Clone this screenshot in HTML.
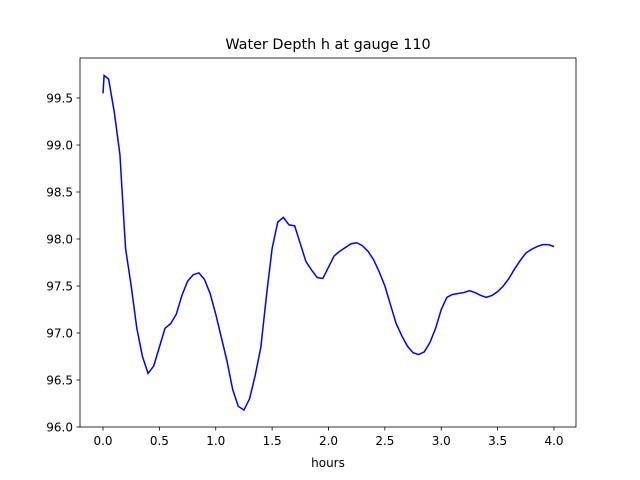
<!DOCTYPE html>
<html><head><meta charset="utf-8"><style>
body{margin:0;background:#fff;}
svg{display:block;font-family:"DejaVu Sans","Liberation Sans",sans-serif;}
</style></head><body>
<svg id="chart" width="640" height="480" viewBox="0 0 640 480">
<rect width="640" height="480" fill="#fff"/>
<text x="328" y="49" text-anchor="middle" font-size="14.4">Water Depth h at gauge 110</text>
<g id="ticks"></g>
<path id="line" fill="none" stroke="#0000ff" stroke-width="1.5"/>
<rect x="80" y="58" width="496" height="369" fill="none" stroke="#000" stroke-width="0.8"/>
<text x="328" y="467" text-anchor="middle" font-size="12">hours</text>
</svg>
<script>
const times=[0,0.01,0.05,0.1,0.15,0.2,0.25,0.3,0.35,0.4,0.45,0.5,0.55,0.6,0.65,0.7,0.75,0.8,0.85,0.9,0.95,1.0,1.05,1.1,1.15,1.2,1.25,1.3,1.35,1.4,1.45,1.5,1.55,1.6,1.65,1.7,1.75,1.8,1.85,1.9,1.95,2.0,2.05,2.1,2.15,2.2,2.25,2.3,2.35,2.4,2.45,2.5,2.55,2.6,2.65,2.7,2.75,2.8,2.85,2.9,2.95,3.0,3.05,3.1,3.15,3.2,3.25,3.3,3.35,3.4,3.45,3.5,3.55,3.6,3.65,3.7,3.75,3.8,3.85,3.9,3.95,4.0];
const depths=[99.55,99.74,99.7,99.35,98.9,97.9,97.5,97.05,96.75,96.57,96.65,96.85,97.05,97.1,97.2,97.4,97.55,97.62,97.64,97.57,97.42,97.2,96.95,96.7,96.4,96.22,96.18,96.3,96.55,96.85,97.4,97.9,98.18,98.23,98.15,98.14,97.95,97.76,97.67,97.59,97.58,97.7,97.82,97.87,97.91,97.95,97.96,97.93,97.87,97.78,97.65,97.5,97.3,97.1,96.97,96.86,96.79,96.77,96.8,96.9,97.05,97.25,97.38,97.41,97.42,97.43,97.45,97.43,97.4,97.38,97.4,97.44,97.5,97.58,97.68,97.77,97.85,97.89,97.92,97.94,97.94,97.92];
const xTicks=[0,0.5,1,1.5,2,2.5,3,3.5,4];
const xTickLabels=["0.0","0.5","1.0","1.5","2.0","2.5","3.0","3.5","4.0"];
const yTicks=[96,96.5,97,97.5,98,98.5,99,99.5];
const yTickLabels=["96.0","96.5","97.0","97.5","98.0","98.5","99.0","99.5"];
const xs=v=>103+v*112.75;
const ys=v=>427-(v-96)*94;
const NS="http://www.w3.org/2000/svg";
const g=document.getElementById('ticks');
function mk(tag,attrs){const e=document.createElementNS(NS,tag);for(const k in attrs)e.setAttribute(k,attrs[k]);g.appendChild(e);return e;}
xTicks.forEach((t,i)=>{
  const l=mk('line',{x1:xs(t),x2:xs(t),y1:427,y2:430.5,stroke:'#000','stroke-width':0.8});
  
  
  const tx=mk('text',{x:xs(t),y:445,'text-anchor':'middle','font-size':12});
  tx.textContent=xTickLabels[i];
  
  
});
yTicks.forEach((t,i)=>{
  const l=mk('line',{x1:76.5,x2:80,y1:ys(t),y2:ys(t),stroke:'#000','stroke-width':0.8});
  
  
  const tx=mk('text',{x:73,y:ys(t)+4.5,'text-anchor':'end','font-size':12});
  tx.textContent=yTickLabels[i];
  
  
});
let d='';
times.forEach((t,i)=>{d+=(i?'L':'M')+xs(t).toFixed(2)+' '+ys(depths[i]).toFixed(2);});
document.getElementById('line').setAttribute('d',d);
</script>
</body></html>
